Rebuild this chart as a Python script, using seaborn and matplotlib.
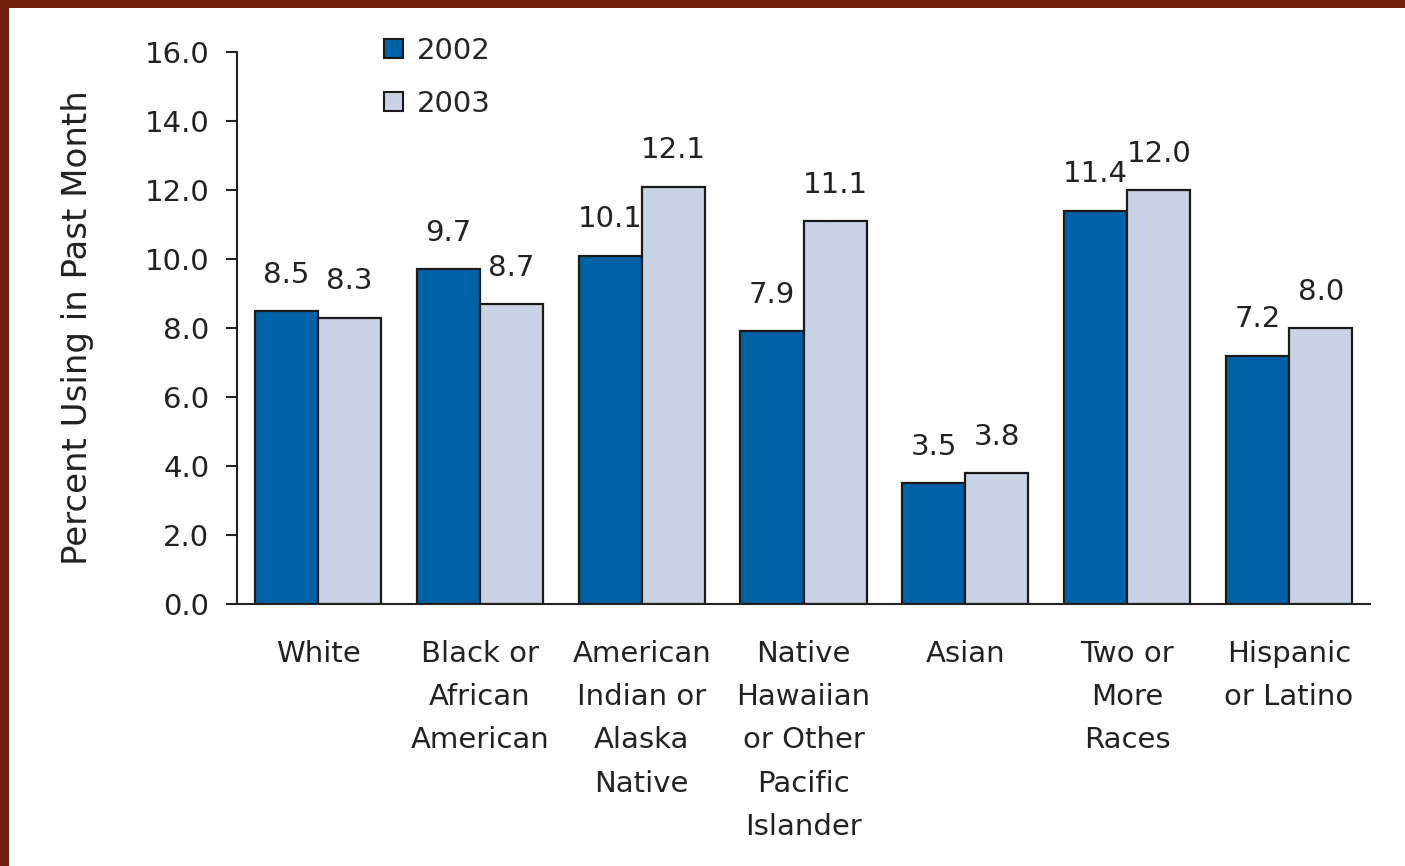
import matplotlib
matplotlib.use("Agg")
import matplotlib.pyplot as plt
import seaborn as sns
import pandas as pd
from matplotlib.patches import Rectangle

categories = ["White", "Black or\nAfrican\nAmerican", "American\nIndian or\nAlaska\nNative",
              "Native\nHawaiian\nor Other\nPacific\nIslander", "Asian", "Two or\nMore\nRaces",
              "Hispanic\nor Latino"]
years = ["2002", "2003"]
values_2002 = [8.5, 9.7, 10.1, 7.9, 3.5, 11.4, 7.2]
values_2003 = [8.3, 8.7, 12.1, 11.1, 3.8, 12.0, 8.0]
yticks = [0, 2, 4, 6, 8, 10, 12, 14, 16]

df = pd.DataFrame({
    "Category": categories * 2,
    "Year": [years[0]] * len(categories) + [years[1]] * len(categories),
    "Value": values_2002 + values_2003,
})

sns.set_style("white")
plt.rcParams["font.family"] = ["DejaVu Sans"]

fig = plt.figure(figsize=(14.05, 8.66), dpi=100)
ax = fig.add_axes([237/1405, 1 - 604/866, (1370-237)/1405, (604-52)/866])

palette = {"2002": "#0062A6", "2003": "#C9D3E3"}
sns.barplot(data=df, x="Category", y="Value", hue="Year", order=categories,
            hue_order=years, palette=palette, width=0.78, gap=0,
            edgecolor="#1a1a1a", linewidth=1.6, saturation=1, ax=ax, legend=True)

for container in ax.containers:
    ax.bar_label(container, fmt="%.1f", padding=16, fontsize=21, color="#222222")

ax.set_xlim(-0.5, 6.5)
ax.set_ylim(0, 16)
ax.set_yticks(yticks)
ax.set_yticklabels([f"{v:.1f}" for v in yticks], fontsize=21, color="#222222")
ax.tick_params(axis="y", direction="out", length=8, width=1.5, color="#222222", pad=12, left=True)
ax.tick_params(axis="x", length=0, pad=26)
for lbl in ax.get_xticklabels():
    lbl.set_fontsize(21)
    lbl.set_color("#222222")
    lbl.set_linespacing(1.69)
    lbl.set_verticalalignment("top")
ax.set_xlabel("")
ax.set_ylabel("Percent Using in Past Month", fontsize=24.5, color="#222222", labelpad=36)
sns.despine(ax=ax)
for s in ["left", "bottom"]:
    ax.spines[s].set_linewidth(1.5)
    ax.spines[s].set_color("#222222")

leg = ax.legend(loc="upper left", bbox_to_anchor=(0.107, 1.075), frameon=False,
                fontsize=21, handlelength=0.65, handleheight=0.65, handletextpad=0.45,
                labelspacing=0.85)
for h in leg.legend_handles:
    h.set_edgecolor("#1a1a1a")
    h.set_linewidth(1.5)

fig.patches.append(Rectangle((0, 1 - 8/866), 1, 8/866, transform=fig.transFigure,
                             facecolor="#722010", edgecolor="none", zorder=10))
fig.patches.append(Rectangle((0, 0), 9/1405, 1, transform=fig.transFigure,
                             facecolor="#722010", edgecolor="none", zorder=10))

fig.savefig("out.png", dpi=100)
